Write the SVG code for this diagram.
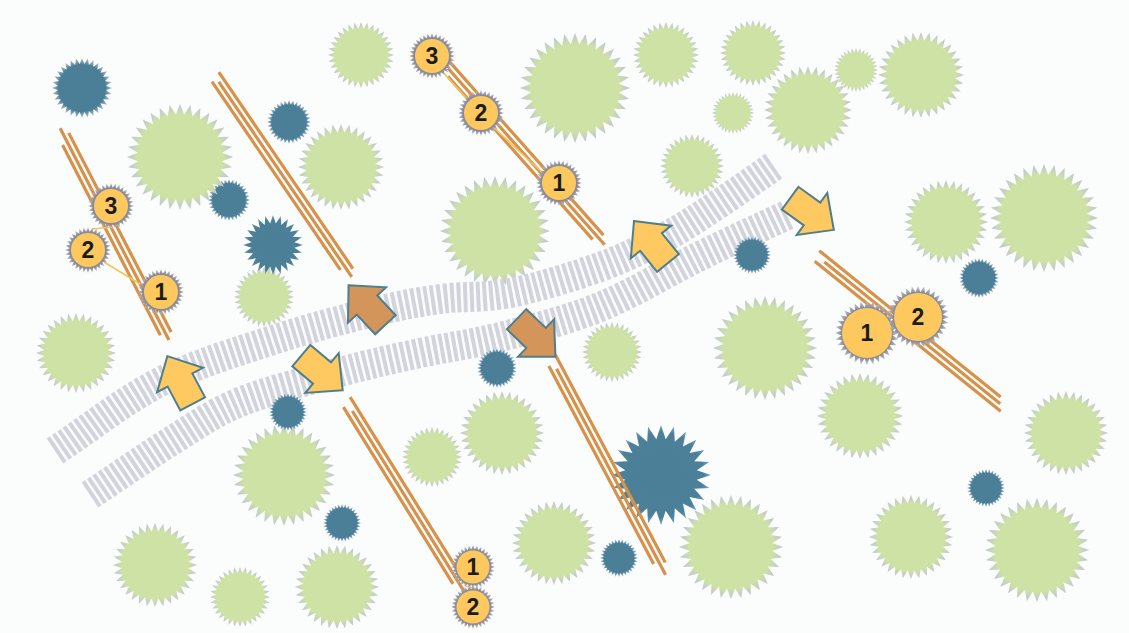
<svg xmlns="http://www.w3.org/2000/svg" xmlns:xlink="http://www.w3.org/1999/xlink" width="1129" height="633" viewBox="0 0 1129 633">
<defs>
<radialGradient id="gG" cx="0.5" cy="0.5" r="0.5"><stop offset="0" stop-color="#cee2a6"/><stop offset="0.8" stop-color="#cee2a6"/><stop offset="1" stop-color="#bfc3d3"/></radialGradient>
<radialGradient id="gB" cx="0.5" cy="0.5" r="0.5"><stop offset="0" stop-color="#4a7f97"/><stop offset="0.78" stop-color="#4a7f97"/><stop offset="1" stop-color="#b3c2d2"/></radialGradient>
<radialGradient id="gBB" cx="0.5" cy="0.5" r="0.5"><stop offset="0" stop-color="#4a7f97"/><stop offset="0.85" stop-color="#4b8098"/><stop offset="1" stop-color="#7ea3b6"/></radialGradient>
<radialGradient id="gK" cx="0.5" cy="0.5" r="0.5"><stop offset="0" stop-color="#7f808e"/><stop offset="0.8" stop-color="#8a8b98"/><stop offset="1" stop-color="#c6c8d2"/></radialGradient>
<polygon id="s32" points="100,0 79.6,7.8 98.1,19.5 76.6,23.2 92.4,38.3 70.6,37.7 83.1,55.6 61.8,50.8 70.7,70.7 50.8,61.8 55.6,83.1 37.7,70.6 38.3,92.4 23.2,76.6 19.5,98.1 7.8,79.6 0,100 -7.8,79.6 -19.5,98.1 -23.2,76.6 -38.3,92.4 -37.7,70.6 -55.6,83.1 -50.8,61.8 -70.7,70.7 -61.8,50.8 -83.1,55.6 -70.6,37.7 -92.4,38.3 -76.6,23.2 -98.1,19.5 -79.6,7.8 -100,0 -79.6,-7.8 -98.1,-19.5 -76.6,-23.2 -92.4,-38.3 -70.6,-37.7 -83.1,-55.6 -61.8,-50.8 -70.7,-70.7 -50.8,-61.8 -55.6,-83.1 -37.7,-70.6 -38.3,-92.4 -23.2,-76.6 -19.5,-98.1 -7.8,-79.6 0,-100 7.8,-79.6 19.5,-98.1 23.2,-76.6 38.3,-92.4 37.7,-70.6 55.6,-83.1 50.8,-61.8 70.7,-70.7 61.8,-50.8 83.1,-55.6 70.6,-37.7 92.4,-38.3 76.6,-23.2 98.1,-19.5 79.6,-7.8"/>
<polygon id="s24" points="100,0 71.4,9.4 96.6,25.9 66.5,27.6 86.6,50 57.1,43.8 70.7,70.7 43.8,57.1 50,86.6 27.6,66.5 25.9,96.6 9.4,71.4 0,100 -9.4,71.4 -25.9,96.6 -27.6,66.5 -50,86.6 -43.8,57.1 -70.7,70.7 -57.1,43.8 -86.6,50 -66.5,27.6 -96.6,25.9 -71.4,9.4 -100,0 -71.4,-9.4 -96.6,-25.9 -66.5,-27.6 -86.6,-50 -57.1,-43.8 -70.7,-70.7 -43.8,-57.1 -50,-86.6 -27.6,-66.5 -25.9,-96.6 -9.4,-71.4 0,-100 9.4,-71.4 25.9,-96.6 27.6,-66.5 50,-86.6 43.8,-57.1 70.7,-70.7 57.1,-43.8 86.6,-50 66.5,-27.6 96.6,-25.9 71.4,-9.4"/>
<path id="arr" d="M0,-27 L26,0 L14,0 L14,27 L-14,27 L-14,0 L-26,0 Z"/>
<style>
.g{fill:url(#gG)}
.b{fill:url(#gB)}
.bb{fill:url(#gBB)}
.k{fill:url(#gK)}
.band{fill:none;stroke:#d3d3dd;stroke-width:30;stroke-dasharray:4 2.5}
.rod{stroke:#d6914a;stroke-width:3.2;fill:none}
.lnk{stroke:#f5c35c;stroke-width:1.6;fill:none}
.yc{fill:#fdc95f}
.num{font-family:"Liberation Sans",Arial,sans-serif;font-weight:bold;font-size:23px;fill:#1c1c1c;text-anchor:middle}
.ay{fill:#fdc960;stroke:#4f7e8d;stroke-width:2;stroke-linejoin:miter}
.ao{fill:#d4955a;stroke:#4f7e8d;stroke-width:2;stroke-linejoin:miter}
</style>
</defs>
<rect width="1129" height="633" fill="#fbfcfc"/>
<g id="stars">
<use href="#s32" class="b" transform="translate(229,200) scale(0.21)"/>
<use href="#s32" class="g" transform="translate(361,55) scale(0.33)"/>
<use href="#s32" class="g" transform="translate(180,157) scale(0.53)"/>
<use href="#s32" class="g" transform="translate(341,167) scale(0.43)"/>
<use href="#s32" class="g" transform="translate(264,297) scale(0.30)"/>
<use href="#s32" class="g" transform="translate(495,231) scale(0.55)"/>
<use href="#s32" class="g" transform="translate(575,88) scale(0.55)"/>
<use href="#s32" class="g" transform="translate(666,55) scale(0.33)"/>
<use href="#s32" class="g" transform="translate(753,53) scale(0.33)"/>
<use href="#s32" class="g" transform="translate(733,113) scale(0.21)"/>
<use href="#s32" class="g" transform="translate(808,110) scale(0.44)"/>
<use href="#s32" class="g" transform="translate(856,70) scale(0.22)"/>
<use href="#s32" class="g" transform="translate(921,75) scale(0.43)"/>
<use href="#s32" class="g" transform="translate(692,166) scale(0.32)"/>
<use href="#s32" class="g" transform="translate(946,222) scale(0.42)"/>
<use href="#s32" class="g" transform="translate(1044,218) scale(0.54)"/>
<use href="#s32" class="g" transform="translate(76,353) scale(0.40)"/>
<use href="#s32" class="g" transform="translate(765,348) scale(0.52)"/>
<use href="#s32" class="g" transform="translate(860,416) scale(0.43)"/>
<use href="#s32" class="g" transform="translate(1066,433) scale(0.42)"/>
<use href="#s32" class="g" transform="translate(612,352) scale(0.30)"/>
<use href="#s32" class="g" transform="translate(502,433) scale(0.42)"/>
<use href="#s32" class="g" transform="translate(432,457) scale(0.30)"/>
<use href="#s32" class="g" transform="translate(284,475) scale(0.51)"/>
<use href="#s32" class="g" transform="translate(155,565) scale(0.42)"/>
<use href="#s32" class="g" transform="translate(240,597) scale(0.30)"/>
<use href="#s32" class="g" transform="translate(337,587) scale(0.42)"/>
<use href="#s32" class="g" transform="translate(554,543) scale(0.42)"/>
<use href="#s32" class="g" transform="translate(731,547) scale(0.52)"/>
<use href="#s32" class="g" transform="translate(911,537) scale(0.42)"/>
<use href="#s32" class="g" transform="translate(1037,550) scale(0.52)"/>
<use href="#s32" class="b" transform="translate(82,88) scale(0.30)"/>
<use href="#s32" class="b" transform="translate(289,122) scale(0.22)"/>
<use href="#s24" class="bb" transform="translate(273,245) scale(0.30)"/>
</g>
<g id="bands">
<path class="band" d="M55,451 C90,428 123.7,400.5 160,382 S237.5,351.7 273,340 S345.2,318.8 373,312 S417.2,302.2 440,299 S483.3,298.3 510,293 S573.8,276.5 600,267 S647,246.7 667,236 S702.2,214.7 720,203 S756,178.3 774,166"/>
<path class="band" d="M90,495 C117.7,476.7 148,455.5 173,440 S212.2,413.3 240,402 S310,380.2 340,372 S393.3,358.8 420,353 S470,344.7 500,337 S566.7,320.5 600,307 S668.8,271.3 700,256 S758,228.7 787,215"/>
</g>
<g id="blue-stars">
<use href="#s32" class="b" transform="translate(752,255) scale(0.19)"/>
<use href="#s32" class="b" transform="translate(979,278) scale(0.20)"/>
<use href="#s32" class="b" transform="translate(497,368) scale(0.20)"/>
<use href="#s32" class="b" transform="translate(288,412) scale(0.19)"/>
<use href="#s32" class="b" transform="translate(342,523) scale(0.19)"/>
<use href="#s32" class="b" transform="translate(619,558) scale(0.19)"/>
<use href="#s32" class="b" transform="translate(986,488) scale(0.19)"/>
<use href="#s24" class="bb" transform="translate(661,475) scale(0.50)"/>
</g>
<g id="rods">
<g transform="translate(115,235) rotate(62.8)"><line class="rod" x1="-112" y1="-5.5" x2="112" y2="-5.5"/><line class="rod" x1="-120" y1="0" x2="118" y2="0"/><line class="rod" x1="-104" y1="5.5" x2="110" y2="5.5"/></g>
<g transform="translate(283,176) rotate(55.7)"><line class="rod" x1="-122" y1="-5.5" x2="116" y2="-5.5"/><line class="rod" x1="-114" y1="0" x2="122" y2="0"/><line class="rod" x1="-118" y1="5.5" x2="110" y2="5.5"/></g>
<g transform="translate(525,155) rotate(48.4)"><line class="rod" x1="-120" y1="-5.5" x2="112" y2="-5.5"/><line class="rod" x1="-116" y1="0" x2="120" y2="0"/><line class="rod" x1="-110" y1="5.5" x2="108" y2="5.5"/></g>
<g transform="translate(910,331) rotate(38.9)"><line class="rod" x1="-121" y1="-5.5" x2="112" y2="-5.5"/><line class="rod" x1="-110" y1="0" x2="116" y2="0"/><line class="rod" x1="-118" y1="5.5" x2="121" y2="5.5"/></g>
<g transform="translate(405,496) rotate(58.2)"><line class="rod" x1="-113" y1="-5.5" x2="106" y2="-5.5"/><line class="rod" x1="-100" y1="0" x2="113" y2="0"/><line class="rod" x1="-108" y1="5.5" x2="100" y2="5.5"/></g>
<g transform="translate(608,466) rotate(62.1)"><line class="rod" x1="-123" y1="-5.5" x2="112" y2="-5.5"/><line class="rod" x1="-110" y1="0" x2="123" y2="0"/><line class="rod" x1="-116" y1="5.5" x2="108" y2="5.5"/></g>
</g>
<g id="links">
<line class="lnk" x1="92" y1="229" x2="113" y2="227"/>
<line class="lnk" x1="104" y1="262" x2="140" y2="284"/>
<line class="lnk" x1="441" y1="70" x2="470" y2="102"/>
<line class="lnk" x1="492" y1="126" x2="546" y2="176"/>
<line class="lnk" x1="466" y1="586" x2="480" y2="590"/>
</g>
<g id="arrows">
<use href="#arr" class="ay" transform="translate(180,380) rotate(-28)"/>
<use href="#arr" class="ay" transform="translate(322,373) rotate(130)"/>
<use href="#arr" class="ao" transform="translate(367,305) rotate(-43)"/>
<use href="#arr" class="ao" transform="translate(536,338) rotate(134)"/>
<use href="#arr" class="ay" transform="translate(651,242) rotate(-39)"/>
<use href="#arr" class="ay" transform="translate(812,214) rotate(126)"/>
</g>
<g id="badge-a3"><use href="#s32" class="k" transform="translate(111,206) scale(0.23)"/><circle class="yc" cx="111" cy="206" r="17"/><text class="num" x="111" y="214">3</text></g>
<g id="badge-a2"><use href="#s32" class="k" transform="translate(88,250) scale(0.23)"/><circle class="yc" cx="88" cy="250" r="17"/><text class="num" x="88" y="258">2</text></g>
<g id="badge-a1"><use href="#s32" class="k" transform="translate(161,292) scale(0.23)"/><circle class="yc" cx="161" cy="292" r="17"/><text class="num" x="161" y="300">1</text></g>
<g id="badge-b3"><use href="#s32" class="k" transform="translate(432,56) scale(0.23)"/><circle class="yc" cx="432" cy="56" r="17"/><text class="num" x="432" y="64">3</text></g>
<g id="badge-b2"><use href="#s32" class="k" transform="translate(481,113) scale(0.23)"/><circle class="yc" cx="481" cy="113" r="17"/><text class="num" x="481" y="121">2</text></g>
<g id="badge-b1"><use href="#s32" class="k" transform="translate(559,183) scale(0.23)"/><circle class="yc" cx="559" cy="183" r="17"/><text class="num" x="559" y="191">1</text></g>
<g id="badge-c1"><use href="#s32" class="k" transform="translate(867,333) scale(0.32)"/><circle class="yc" cx="867" cy="333" r="25"/><text class="num" x="867" y="341">1</text></g>
<g id="badge-c2"><use href="#s32" class="k" transform="translate(918,317) scale(0.31)"/><circle class="yc" cx="918" cy="317" r="24"/><text class="num" x="918" y="325">2</text></g>
<g id="badge-d1"><use href="#s32" class="k" transform="translate(473,567) scale(0.22)"/><circle class="yc" cx="473" cy="567" r="16.5"/><text class="num" x="473" y="575">1</text></g>
<g id="badge-d2"><use href="#s32" class="k" transform="translate(473,607) scale(0.22)"/><circle class="yc" cx="473" cy="607" r="16.5"/><text class="num" x="473" y="615">2</text></g>
</svg>
